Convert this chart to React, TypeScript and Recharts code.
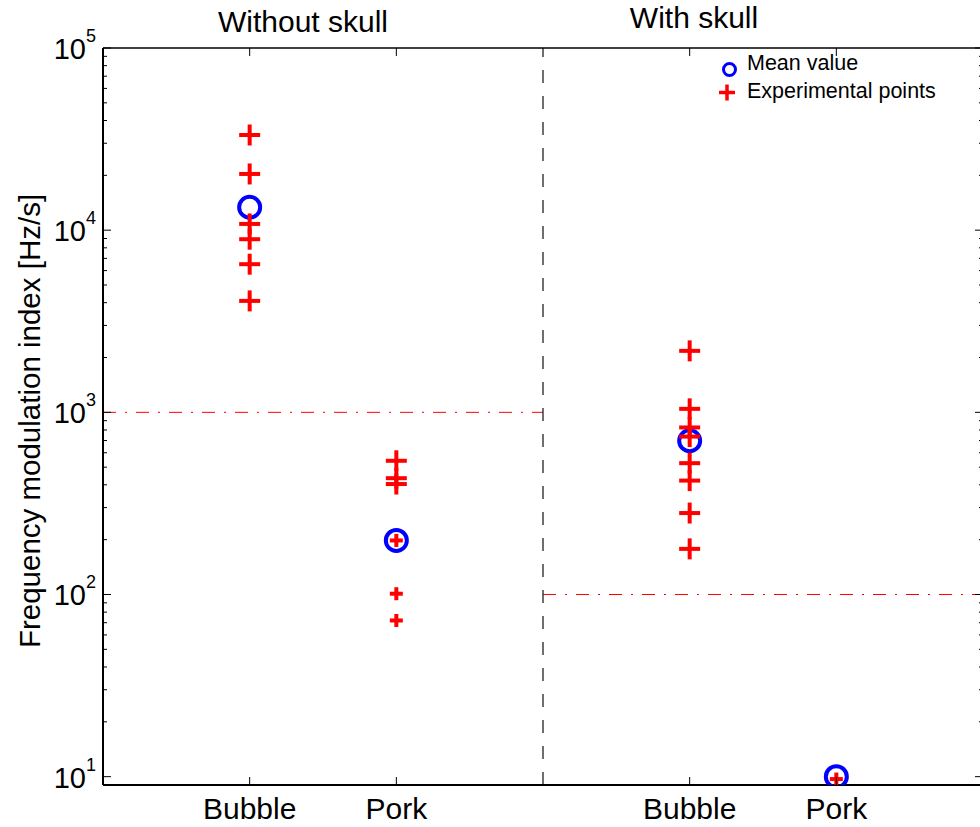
import React from 'react';
import { ScatterChart, Scatter, XAxis, YAxis, ReferenceLine, Customized } from 'recharts';

// ---------- data ----------
const categoryLabels = ['Bubble', 'Pork', 'Bubble', 'Pork'];
const categoryPositions = [1, 2, 4, 5];
const groupTitles = ['Without skull', 'With skull'];
const legendLabels = ['Mean value', 'Experimental points'];
const yAxisTitle = 'Frequency modulation index [Hz/s]';

const bubbleNoSkullPoints = [33300, 20350, 10820, 8920, 6505, 4090];
const porkNoSkullPoints = [542, 435, 404];
const porkNoSkullSmallPoints = [198, 101, 72];
const bubbleSkullPoints = [2175, 1045, 826, 736, 526, 422, 280, 178];
const porkSkullSmallPoints = [9.7];
const meanValues = [13360, 198, 698, 10];

const thresholdNoSkull = 1000;
const thresholdSkull = 100;
const groupDivider = 3;
const xDomain = [0, 6];
const yDomain = [9, 100000];
const yMajorTicks = [10, 100, 1000, 10000, 100000];
const yMinorMultipliers = [2, 3, 4, 5, 6, 7, 8, 9];

// ---------- derived ----------
const yAllTicks: number[] = [];
yMajorTicks.forEach((m, i) => {
  yAllTicks.push(m);
  if (i < yMajorTicks.length - 1) yMinorMultipliers.forEach((k) => yAllTicks.push(m * k));
});
const majorSet = new Set(yMajorTicks);

const largeCrossData = [
  ...bubbleNoSkullPoints.map((y) => ({ x: categoryPositions[0], y })),
  ...porkNoSkullPoints.map((y) => ({ x: categoryPositions[1], y })),
  ...bubbleSkullPoints.map((y) => ({ x: categoryPositions[2], y })),
];
const smallCrossData = [
  ...porkNoSkullSmallPoints.map((y) => ({ x: categoryPositions[1], y })),
  ...porkSkullSmallPoints.map((y) => ({ x: categoryPositions[3], y })),
];
const meanData = meanValues.map((y, i) => ({ x: categoryPositions[i], y }));

const FONT = "'Liberation Sans', Arial, Helvetica, sans-serif";
const RED = '#ff0000';
const BLUE = '#0000ff';

const makeCross = (size: number) => (props: any) => {
  const { cx, cy } = props;
  if (cx == null || cy == null) return <g />;
  const h = size / 2;
  return (
    <g>
      <line x1={cx - h} y1={cy} x2={cx + h} y2={cy} stroke={RED} strokeWidth={4} />
      <line x1={cx} y1={cy - h} x2={cx} y2={cy + h} stroke={RED} strokeWidth={4} />
    </g>
  );
};
const LargeCross = makeCross(21);
const SmallCross = makeCross(13);

const MeanCircle = (props: any) => {
  const { cx, cy } = props;
  if (cx == null || cy == null) return <g />;
  return <circle cx={cx} cy={cy} r={10.5} fill="none" stroke={BLUE} strokeWidth={4} />;
};

const Invisible = () => <g />;

const BottomTick = (props: any) => {
  const { x, y, payload } = props;
  const idx = categoryPositions.indexOf(payload.value);
  return (
    <g>
      <line x1={x} y1={y} x2={x} y2={y - 8} stroke="#000" strokeWidth={1} />
      <text x={x} y={y + 34} textAnchor="middle" fontFamily={FONT} fontSize={30} fill="#000">
        {idx >= 0 ? categoryLabels[idx] : ''}
      </text>
    </g>
  );
};

const TopTick = (props: any) => {
  const { x, y } = props;
  return <line x1={x} y1={y} x2={x} y2={y + 8} stroke="#000" strokeWidth={1} />;
};

const LeftTick = (props: any) => {
  const { x, y, payload } = props;
  const v = payload.value;
  const major = majorSet.has(v);
  const exp = Math.round(Math.log10(v));
  return (
    <g>
      <line x1={x} y1={y} x2={x + (major ? 8 : 4)} y2={y} stroke="#000" strokeWidth={1} />
      {major && (
        <text x={x - 7} y={y + 11} textAnchor="end" fontFamily={FONT} fill="#000">
          <tspan fontSize={29}>10</tspan>
          <tspan fontSize={18} dy={-17}>{exp}</tspan>
        </text>
      )}
    </g>
  );
};

const RightTick = (props: any) => {
  const { x, y, payload } = props;
  const major = majorSet.has(payload.value);
  return <line x1={x} y1={y} x2={x - (major ? 8 : 4)} y2={y} stroke="#000" strokeWidth={1} />;
};

const Overlay = () => (
  <g fontFamily={FONT} fill="#000">
    <text x={303} y={32} textAnchor="middle" fontSize={30}>{groupTitles[0]}</text>
    <text x={694} y={28} textAnchor="middle" fontSize={30}>{groupTitles[1]}</text>
    <text x={40} y={421} textAnchor="middle" fontSize={29.5} transform="rotate(-90, 40, 421)">
      {yAxisTitle}
    </text>
    <circle cx={729.5} cy={69.5} r={6} fill="none" stroke={BLUE} strokeWidth={3} />
    <line x1={719} y1={92.5} x2={735} y2={92.5} stroke={RED} strokeWidth={3.5} />
    <line x1={727} y1={84.5} x2={727} y2={100.5} stroke={RED} strokeWidth={3.5} />
    <text x={747} y={70} fontSize={21.5}>{legendLabels[0]}</text>
    <text x={747} y={98} fontSize={21.5}>{legendLabels[1]}</text>
  </g>
);

export default function App() {
  return (
    <div style={{ position: 'absolute', left: 0, top: 0, width: 980, height: 827, overflow: 'hidden', background: '#fff' }}>
      <ScatterChart
        width={1000}
        height={827}
        margin={{ top: 47, right: 16, bottom: 0, left: 0 }}
        style={{ background: '#fff' }}
      >
        <XAxis
          xAxisId="bottom"
          dataKey="x"
          type="number"
          domain={xDomain}
          ticks={categoryPositions}
          interval={0}
          height={42}
          tickSize={0}
          tickMargin={0}
          tickLine={false}
          tick={<BottomTick />}
          axisLine={{ stroke: '#000', strokeWidth: 2 }}
          allowDataOverflow
        />
        <XAxis
          xAxisId="top"
          dataKey="x"
          orientation="top"
          type="number"
          domain={xDomain}
          ticks={categoryPositions}
          interval={0}
          height={1}
          tickSize={0}
          tickMargin={0}
          tickLine={false}
          tick={<TopTick />}
          axisLine={{ stroke: '#000', strokeWidth: 1.5 }}
          allowDataOverflow
        />
        <YAxis
          yAxisId="left"
          dataKey="y"
          type="number"
          scale="log"
          domain={yDomain}
          ticks={yAllTicks}
          interval={0}
          width={103}
          tickSize={0}
          tickMargin={0}
          tickLine={false}
          tick={<LeftTick />}
          axisLine={{ stroke: '#000', strokeWidth: 2 }}
          allowDataOverflow
        />
        <YAxis
          yAxisId="right"
          dataKey="y"
          orientation="right"
          type="number"
          scale="log"
          domain={yDomain}
          ticks={yAllTicks}
          interval={0}
          width={1}
          tickSize={0}
          tickMargin={0}
          tickLine={false}
          tick={<RightTick />}
          axisLine={{ stroke: '#000', strokeWidth: 2 }}
          allowDataOverflow
        />
        <ReferenceLine
          xAxisId="bottom"
          yAxisId="left"
          segment={[{ x: xDomain[0], y: thresholdNoSkull }, { x: groupDivider, y: thresholdNoSkull }]}
          stroke={RED}
          strokeWidth={1}
          strokeDasharray="13 9 2 9"
          ifOverflow="visible"
        />
        <ReferenceLine
          xAxisId="bottom"
          yAxisId="left"
          segment={[{ x: groupDivider, y: thresholdSkull }, { x: xDomain[1], y: thresholdSkull }]}
          stroke={RED}
          strokeWidth={1}
          strokeDasharray="13 9 2 9"
          ifOverflow="visible"
        />
        <ReferenceLine
          xAxisId="bottom"
          yAxisId="left"
          x={groupDivider}
          stroke="#222"
          strokeWidth={1.3}
          strokeDasharray="13 13"
        />
        <Scatter
          xAxisId="top"
          yAxisId="right"
          data={meanData}
          shape={Invisible}
          isAnimationActive={false}
        />
        <Scatter
          xAxisId="bottom"
          yAxisId="left"
          data={meanData}
          shape={MeanCircle}
          isAnimationActive={false}
        />
        <Scatter
          xAxisId="bottom"
          yAxisId="left"
          data={largeCrossData}
          shape={LargeCross}
          isAnimationActive={false}
        />
        <Scatter
          xAxisId="bottom"
          yAxisId="left"
          data={smallCrossData}
          shape={SmallCross}
          isAnimationActive={false}
        />
        <Customized component={Overlay} />
      </ScatterChart>
    </div>
  );
}
